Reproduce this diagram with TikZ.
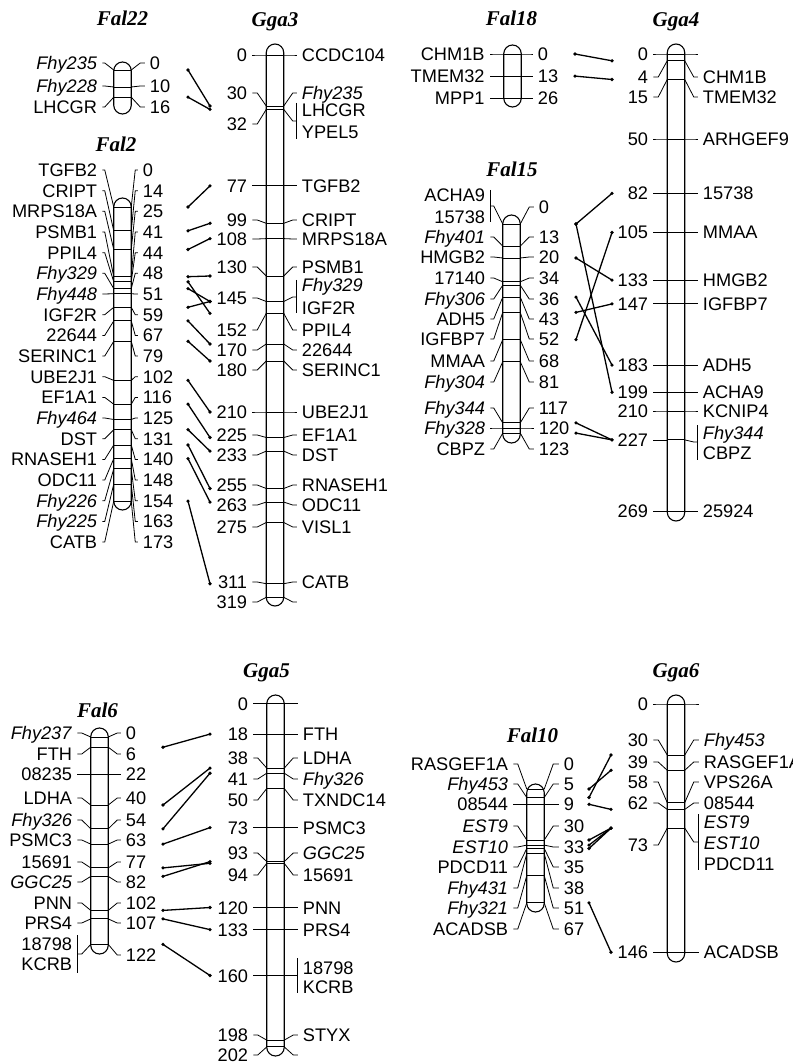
\documentclass[tikz,border=0pt]{standalone}
\usepackage{fontspec}
\newfontfamily\labfont{Liberation Sans}
\newfontfamily\ttlfont{Liberation Serif}
\def\cHW{8.75}
\def\cSC{1.7}
\newcommand\setchr[7]{\def\cCX{#1}\def\cYZ{#2}\def\cLT{#3}\def\cRT{#4}\def\cLD{#5}\def\cRD{#6}\def\cCON{#7}}
\newcommand\mkr[6]{%
 \pgfmathsetmacro\mYm{\cYZ+\cSC*#2}%
 \if\relax\detokenize{#3}\relax\let\mYl\mYm\else\def\mYl{#3}\fi
 \if\relax\detokenize{#5}\relax\let\mYr\mYm\else\def\mYr{#5}\fi
 \pgfmathsetmacro\mXl{\cCX-\cHW}\pgfmathsetmacro\mXr{\cCX+\cHW}%
 \draw[mline] (\mXl,\mYm) -- (\mXr,\mYm);
 \draw[lead] (\mXl,\mYm) -- (\mXl-\cLD,\mYl) -- (\mXl-\cLT+5,\mYl);
 \node[lab,anchor=east] (#1-l) at (\mXl-\cLT,\mYl) {#4};
 \draw[lead] (\mXr,\mYm) -- (\mXr+\cRD,\mYr) -- (\mXr+\cRT-5,\mYr);
 \node[lab,anchor=west] (#1-r) at (\mXr+\cRT,\mYr) {#6};
 \coordinate (#1) at (\cCON,\mYm);
}
\newcommand\fmk[4]{\mkr{#1}{#2}{#3}{#4}{#3}{#2}}
\newcommand\gmk[4]{\mkr{#1}{#2}{#3}{#2}{#3}{#4}}
\newcommand\rbar[2]{\draw[lead] (\cCX+\cHW+\cRT-5,#1) -- (\cCX+\cHW+\cRT-5,#2);}
\newcommand\lbar[2]{\draw[lead] (\cCX-\cHW-\cLT+5,#1) -- (\cCX-\cHW-\cLT+5,#2);}
\newcommand\rtxt[3]{\node[lab,anchor=west] (#1) at (\cCX+\cHW+\cRT,#2) {#3};}
\newcommand\ltxt[3]{\node[lab,anchor=east] (#1) at (\cCX-\cHW-\cLT,#2) {#3};}
\newcommand\drawchr[2]{\draw[chrom,rounded corners=8.75pt] (\cCX-\cHW,#1) rectangle (\cCX+\cHW,#2);}
\newcommand\cnx[2]{\draw[conn] (#1) -- (#2); \fill (#1) circle (1.8pt) (#2) circle (1.8pt);}
\begin{document}
\begin{tikzpicture}[x=1pt,y=-1pt,
  chrom/.style={line width=1.1pt},
  mline/.style={line width=0.9pt},
  lead/.style={line width=0.8pt},
  conn/.style={line width=1.3pt},
  lab/.style={font=\labfont\fontsize{18.2}{20}\selectfont, inner sep=0pt, text height=13pt, text depth=0pt},
  ttl/.style={font=\ttlfont\bfseries\itshape\fontsize{21}{24}\selectfont, inner sep=0pt, text height=14pt, text depth=0pt}]
\fill[white] (0,0) rectangle (792,1064);
\useasboundingbox (0,0) rectangle (792,1064);
% titles
\node[ttl] (t-fal22) at (122.5,19) {Fal22};
\node[ttl] (t-gga3) at (275,19.5) {Gga3};
\node[ttl] (t-fal18) at (511.5,19) {Fal18};
\node[ttl] (t-gga4) at (676,19.5) {Gga4};
\node[ttl] (t-fal2) at (116,145) {Fal2};
\node[ttl] (t-fal15) at (512,170) {Fal15};
\node[ttl] (t-fal6) at (97.5,710) {Fal6};
\node[ttl] (t-gga5) at (266.5,670) {Gga5};
\node[ttl] (t-fal10) at (532.5,735) {Fal10};
\node[ttl] (t-gga6) at (676,670) {Gga6};
% ---------- Fal22
\setchr{122.5}{70}{16.5}{18.5}{9}{9}{188}
\fmk{a0}{0}{63}{\textit{Fhy235}}
\fmk{a10}{10}{86}{\textit{Fhy228}}
\fmk{a16}{16}{107}{LHCGR}
\drawchr{62}{114}
% ---------- Fal2
\setchr{122.5}{207}{16.5}{11.5}{9}{4}{188}
\fmk{b0}{0}{170}{TGFB2}
\fmk{b14}{14}{190.7}{CRIPT}
\fmk{b25}{25}{211.3}{MRPS18A}
\fmk{b41}{41}{232}{PSMB1}
\fmk{b44}{44}{252.7}{PPIL4}
\fmk{b48}{48}{273.3}{\textit{Fhy329}}
\fmk{b51}{51}{294}{\textit{Fhy448}}
\fmk{b59}{59}{314.7}{IGF2R}
\fmk{b67}{67}{335.4}{22644}
\fmk{b79}{79}{356}{SERINC1}
\fmk{b102}{102}{376.7}{UBE2J1}
\fmk{b116}{116}{397.4}{EF1A1}
\fmk{b125}{125}{418}{\textit{Fhy464}}
\fmk{b131}{131}{438.7}{DST}
\fmk{b140}{140}{459.4}{RNASEH1}
\fmk{b148}{148}{480}{ODC11}
\fmk{b154}{154}{500.7}{\textit{Fhy226}}
\fmk{b163}{163}{521.4}{\textit{Fhy225}}
\fmk{b173}{173}{542}{CATB}
\drawchr{198}{510}
% ---------- Gga3
\setchr{275}{55}{19}{18}{9}{9}{210}
\gmk{g3-0}{0}{}{CCDC104}
\gmk{g3-30}{30}{93}{\textit{Fhy235}}
\mkr{g3-32}{32}{124}{32}{121}{}
\rbar{103}{139}\rtxt{g3-32a}{110}{LHCGR}\rtxt{g3-32b}{132}{YPEL5}
\gmk{g3-77}{77}{}{TGFB2}
\gmk{g3-99}{99}{220}{CRIPT}
\gmk{g3-108}{108}{239}{MRPS18A}
\gmk{g3-130}{130}{267}{PSMB1}
\mkr{g3-145}{145}{298}{145}{297}{}
\rbar{280}{313}\rtxt{g3-145a}{285}{\textit{Fhy329}}\rtxt{g3-145b}{308}{IGF2R}
\gmk{g3-152}{152}{330}{PPIL4}
\gmk{g3-170}{170}{350}{22644}
\gmk{g3-180}{180}{370}{SERINC1}
\gmk{g3-210}{210}{}{UBE2J1}
\gmk{g3-225}{225}{435}{EF1A1}
\gmk{g3-233}{233}{455}{DST}
\gmk{g3-255}{255}{485}{RNASEH1}
\gmk{g3-263}{263}{505}{ODC11}
\gmk{g3-275}{275}{527}{VISL1}
\gmk{g3-311}{311}{582}{CATB}
\gmk{g3-319}{319}{602}{}
\drawchr{44}{606}
% ---------- Fal18
\setchr{512.5}{54}{19}{16.5}{9}{9}{575}
\fmk{c0}{0}{}{CHM1B}
\fmk{c13}{13}{}{TMEM32}
\fmk{c26}{26}{}{MPP1}
\drawchr{45}{107}
% ---------- Fal15
\setchr{511.5}{224}{17.5}{18.5}{9}{9}{576}
\mkr{d0}{0}{206}{}{207}{0}
\lbar{190}{222}\ltxt{d0a}{195}{ACHA9}\ltxt{d0b}{217}{15738}
\fmk{d13}{13}{237}{\textit{Fhy401}}
\fmk{d20}{20}{257}{HMGB2}
\fmk{d34}{34}{278}{17140}
\fmk{d36}{36}{299}{\textit{Fhy306}}
\fmk{d43}{43}{319}{ADH5}
\fmk{d52}{52}{339}{IGFBP7}
\fmk{d68}{68}{361}{MMAA}
\fmk{d81}{81}{382}{\textit{Fhy304}}
\fmk{d117}{117}{408}{\textit{Fhy344}}
\fmk{d120}{120}{}{\textit{Fhy328}}
\fmk{d123}{123}{449}{CBPZ}
\drawchr{215}{443}
% ---------- Gga4
\setchr{676}{54}{19}{18}{9}{9}{612}
\gmk{g4-0}{0}{}{}
\gmk{g4-4}{4}{77}{CHM1B}
\gmk{g4-15}{15}{97}{TMEM32}
\gmk{g4-50}{50}{}{ARHGEF9}
\gmk{g4-82}{82}{}{15738}
\gmk{g4-105}{105}{}{MMAA}
\gmk{g4-133}{133}{}{HMGB2}
\gmk{g4-147}{147}{}{IGFBP7}
\gmk{g4-183}{183}{}{ADH5}
\gmk{g4-199}{199}{}{ACHA9}
\gmk{g4-210}{210}{}{KCNIP4}
\mkr{g4-227}{227}{}{227}{442}{}
\rbar{425}{460}\rtxt{g4-227a}{433}{\textit{Fhy344}}\rtxt{g4-227b}{453}{CBPZ}
\gmk{g4-269}{269}{}{25924}
\drawchr{44}{521}
% ---------- Fal6
\setchr{99.5}{737}{18.5}{17.5}{9}{9}{163}
\fmk{e0}{0}{733}{\textit{Fhy237}}
\fmk{e6}{6}{754}{FTH}
\fmk{e22}{22}{}{08235}
\fmk{e40}{40}{798}{LDHA}
\fmk{e54}{54}{820}{\textit{Fhy326}}
\fmk{e63}{63}{840}{PSMC3}
\fmk{e77}{77}{862}{15691}
\fmk{e82}{82}{882}{\textit{GGC25}}
\fmk{e102}{102}{903}{PNN}
\fmk{e107}{107}{923}{PRS4}
\mkr{e122}{122}{954}{}{955}{122}
\lbar{935}{973}\ltxt{e122a}{944}{18798}\ltxt{e122b}{964}{KCRB}
\drawchr{728}{954}
% ---------- Gga5
\setchr{275.5}{703.5}{18.5}{18.5}{9}{9}{210}
\gmk{g5-0}{0}{}{}
\gmk{g5-18}{18}{}{FTH}
\gmk{g5-38}{38}{758}{LDHA}
\gmk{g5-41}{41}{779}{\textit{Fhy326}}
\gmk{g5-50}{50}{800}{TXNDC14}
\gmk{g5-73}{73}{}{PSMC3}
\gmk{g5-93}{93}{853}{\textit{GGC25}}
\gmk{g5-94}{94}{875}{15691}
\gmk{g5-120}{120}{}{PNN}
\gmk{g5-133}{133}{}{PRS4}
\mkr{g5-160}{160}{}{160}{}{}
\rbar{958}{993}\rtxt{g5-160a}{968}{18798}\rtxt{g5-160b}{987}{KCRB}
\gmk{g5-198}{198}{1035}{STYX}
\gmk{g5-202}{202}{1055}{}
\drawchr{695}{1056}
% ---------- Fal10
\setchr{535.5}{789}{18.5}{19.5}{9}{9}{589}
\fmk{h0}{0}{764}{RASGEF1A}
\fmk{h5}{5}{784}{\textit{Fhy453}}
\fmk{h9}{9}{}{08544}
\fmk{h30}{30}{826}{\textit{EST9}}
\fmk{h33}{33}{847}{\textit{EST10}}
\fmk{h35}{35}{867}{PDCD11}
\fmk{h38}{38}{888}{\textit{Fhy431}}
\fmk{h51}{51}{908}{\textit{Fhy321}}
\fmk{h67}{67}{929}{ACADSB}
\drawchr{784}{912}
% ---------- Gga6
\setchr{676}{704}{19}{19}{9}{9}{611}
\gmk{g6-0}{0}{}{}
\gmk{g6-30}{30}{740}{\textit{Fhy453}}
\gmk{g6-39}{39}{762}{RASGEF1A}
\gmk{g6-58}{58}{782}{VPS26A}
\gmk{g6-62}{62}{803}{08544}
\mkr{g6-73}{73}{845}{73}{842}{}
\rbar{814}{870}\rtxt{g6-73a}{822}{\textit{EST9}}\rtxt{g6-73b}{843}{\textit{EST10}}\rtxt{g6-73c}{864}{PDCD11}
\gmk{g6-146}{146}{}{ACADSB}
\drawchr{695}{962}
% ---------- connectors
\cnx{a0}{g3-30}\cnx{a16}{g3-32}
\cnx{b0}{g3-77}\cnx{b14}{g3-99}\cnx{b25}{g3-108}\cnx{b41}{g3-130}
\cnx{b44}{g3-152}\cnx{b48}{g3-145}\cnx{b59}{g3-145}\cnx{b67}{g3-170}
\cnx{b79}{g3-180}\cnx{b102}{g3-210}\cnx{b116}{g3-225}\cnx{b131}{g3-233}
\cnx{b140}{g3-255}\cnx{b148}{g3-263}\cnx{b173}{g3-311}
\cnx{c0}{g4-4}\cnx{c13}{g4-15}
\cnx{d0}{g4-82}\cnx{d0}{g4-199}\cnx{d20}{g4-133}\cnx{d43}{g4-183}
\cnx{d52}{g4-147}\cnx{d68}{g4-105}\cnx{d117}{g4-227}\cnx{d123}{g4-227}
\cnx{e6}{g5-18}\cnx{e40}{g5-38}\cnx{e54}{g5-41}\cnx{e63}{g5-73}
\cnx{e77}{g5-94}\cnx{e82}{g5-93}\cnx{e102}{g5-120}\cnx{e107}{g5-133}
\cnx{e122}{g5-160}
\cnx{h0}{g6-39}\cnx{h5}{g6-30}\cnx{h9}{g6-62}\cnx{h30}{g6-73}
\cnx{h33}{g6-73}\cnx{h35}{g6-73}\cnx{h67}{g6-146}
\end{tikzpicture}
\end{document}
